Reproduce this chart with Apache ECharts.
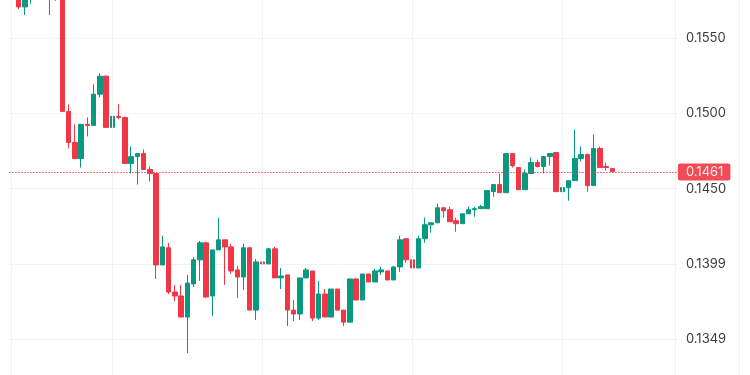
<!DOCTYPE html>
<html>
<head>
<meta charset="utf-8">
<script src="https://cdn.jsdelivr.net/npm/echarts@6/dist/echarts.min.js"></script>
<style>
html,body{margin:0;padding:0;background:#ffffff;}
#chart{width:750px;height:375px;}
</style>
</head>
<body>
<div id="chart"></div>
<script>
// ---- data ----
const slotCount = 107; // candle slots on the time axis (last ones empty)
const categories = Array.from({length: slotCount}, (_, i) => String(i));

const opens = [
0.1590, 0.1580, 0.15707, 0.1577, 0.1581, 0.1586, 0.1577, 0.1584, 0.1578, 0.15013,
0.14807, 0.14700, 0.14927, 0.14920, 0.15127, 0.15247, 0.14907, 0.14980, 0.14973, 0.14667,
0.14713, 0.14733, 0.14627, 0.14600, 0.13993, 0.14107, 0.13813, 0.13787, 0.13647, 0.13867,
0.14027, 0.14140, 0.13787, 0.14093, 0.14160, 0.14113, 0.13960, 0.13913, 0.14107, 0.13693,
0.14013, 0.14000, 0.14100, 0.13907, 0.13927, 0.13693, 0.13667, 0.13907, 0.13953, 0.13640,
0.13800, 0.13647, 0.13833, 0.13693, 0.13613, 0.13900, 0.13760, 0.13933, 0.13880, 0.13947,
0.13953, 0.13893, 0.13980, 0.14167, 0.14027, 0.13973, 0.14167, 0.14260, 0.14273, 0.14373,
0.14360, 0.14287, 0.14267, 0.14333, 0.14360, 0.14367, 0.14367, 0.14480, 0.14527, 0.14473,
0.14733, 0.14640, 0.14493, 0.14600, 0.14673, 0.14647, 0.14713, 0.14740, 0.14480, 0.14507,
0.14553, 0.14700, 0.14727, 0.14520, 0.14767, 0.14647, 0.14633
];
const closes = [
0.1585, 0.15707, 0.1579, 0.1581, 0.1586, 0.1582, 0.1584, 0.1578, 0.15013, 0.14807,
0.14700, 0.14927, 0.14920, 0.15127, 0.15247, 0.14907, 0.14980, 0.14973, 0.14667, 0.14713,
0.14733, 0.14627, 0.14600, 0.13993, 0.14113, 0.13813, 0.13787, 0.13647, 0.13873, 0.14027,
0.14140, 0.13780, 0.14093, 0.14160, 0.14113, 0.13953, 0.13913, 0.14107, 0.13693, 0.14013,
0.14000, 0.14100, 0.13907, 0.13920, 0.13693, 0.13667, 0.13907, 0.13960, 0.13640, 0.13800,
0.13647, 0.13833, 0.13693, 0.13613, 0.13900, 0.13760, 0.13933, 0.13880, 0.13953, 0.13960,
0.13893, 0.13980, 0.14160, 0.14027, 0.13973, 0.14167, 0.14260, 0.14273, 0.14373, 0.14353,
0.14280, 0.14267, 0.14333, 0.14360, 0.14367, 0.14380, 0.14487, 0.14527, 0.14473, 0.14733,
0.14653, 0.14493, 0.14600, 0.14673, 0.14647, 0.14713, 0.14733, 0.14480, 0.14507, 0.14553,
0.14700, 0.14727, 0.14520, 0.14767, 0.14640, 0.14640, 0.14613
];
const lows = [
0.1580, 0.15693, 0.15653, 0.15727, 0.1579, 0.1578, 0.15653, 0.15747, 0.15013, 0.14767,
0.14700, 0.14640, 0.14847, 0.14920, 0.15107, 0.14907, 0.14880, 0.14960, 0.14667, 0.14600,
0.14527, 0.14627, 0.14547, 0.13900, 0.13993, 0.13800, 0.13753, 0.13647, 0.13407, 0.13847,
0.13887, 0.13773, 0.13653, 0.14093, 0.13860, 0.13933, 0.13773, 0.13827, 0.13693, 0.13627,
0.13973, 0.14000, 0.13907, 0.13833, 0.13587, 0.13620, 0.13627, 0.13907, 0.13620, 0.13627,
0.13647, 0.13647, 0.13693, 0.13587, 0.13613, 0.13760, 0.13760, 0.13880, 0.13880, 0.13927,
0.13893, 0.13893, 0.13947, 0.14007, 0.13973, 0.13973, 0.14140, 0.14207, 0.14273, 0.14307,
0.14280, 0.14213, 0.14267, 0.14333, 0.14313, 0.14367, 0.14367, 0.14447, 0.14473, 0.14473,
0.14640, 0.14493, 0.14493, 0.14600, 0.14640, 0.14600, 0.14653, 0.14480, 0.14373, 0.14420,
0.14553, 0.14680, 0.14480, 0.14520, 0.14640, 0.14620, 0.14613
];
const highs = [
0.1593, 0.1582, 0.1580, 0.1582, 0.1588, 0.1588, 0.1586, 0.1586, 0.1580, 0.15060,
0.14927, 0.14927, 0.14973, 0.15193, 0.15267, 0.15253, 0.15027, 0.15060, 0.14973, 0.14780,
0.14733, 0.14760, 0.14647, 0.14600, 0.14187, 0.14140, 0.13860, 0.13860, 0.13927, 0.14047,
0.14153, 0.14147, 0.14093, 0.14307, 0.14160, 0.14133, 0.13987, 0.14133, 0.14113, 0.14033,
0.14087, 0.14107, 0.14113, 0.13973, 0.13927, 0.13760, 0.13907, 0.13973, 0.13953, 0.13887,
0.13833, 0.13833, 0.13833, 0.13693, 0.13900, 0.13907, 0.13933, 0.13933, 0.13967, 0.13980,
0.13953, 0.13987, 0.14187, 0.14167, 0.14067, 0.14187, 0.14307, 0.14273, 0.14400, 0.14373,
0.14380, 0.14307, 0.14333, 0.14380, 0.14380, 0.14393, 0.14487, 0.14527, 0.14600, 0.14733,
0.14733, 0.14640, 0.14627, 0.14707, 0.14693, 0.14713, 0.14733, 0.14740, 0.14560, 0.14553,
0.14893, 0.14780, 0.14733, 0.14860, 0.14780, 0.14673, 0.14633
];

const yTickValues = [0.135, 0.140, 0.145, 0.150, 0.155];
const yTickLabels = ['0.1349', '0.1399', '0.1450', '0.1500', '0.1550'];
const yMin = 0.13262;
const yMax = 0.15753;
const lastPrice = 0.1461;
const lastPriceLabel = '0.1461';
const timeGridIdx = [16, 40, 64, 88];

// ---- styles ----
const UP = '#089981';
const DOWN = '#f23645';
const GRID = '#f0f2f5';
const TEXT = '#3c3c3c';

const ohlc = opens.map((o, i) => [o, closes[i], lows[i], highs[i]]);

const chart = echarts.init(document.getElementById('chart'), null, {renderer: 'canvas'});
chart.setOption({
  animation: false,
  backgroundColor: '#ffffff',
  grid: {left: 9.125, right: 72.125, top: 0, bottom: 0, containLabel: false},
  graphic: [
    {type: 'line', z: 0, silent: true, shape: {x1: 11.5, y1: 0, x2: 11.5, y2: 375}, style: {stroke: GRID, lineWidth: 1}},
    {type: 'line', z: 0, silent: true, shape: {x1: 675.5, y1: 0, x2: 675.5, y2: 375}, style: {stroke: GRID, lineWidth: 1}},
    {type: 'line', z: 0, silent: true, shape: {x1: 739.5, y1: 0, x2: 739.5, y2: 375}, style: {stroke: GRID, lineWidth: 1}}
  ],
  xAxis: {
    type: 'category',
    data: categories,
    boundaryGap: true,
    axisLine: {show: false},
    axisTick: {show: false},
    axisLabel: {show: false},
    splitLine: {show: false}
  },
  yAxis: {
    type: 'value',
    position: 'right',
    min: yMin,
    max: yMax,
    splitNumber: 5,
    scale: true,
    axisLine: {show: false},
    axisTick: {show: false},
    splitLine: {show: true, showMinLine: false, showMaxLine: false, lineStyle: {color: GRID, width: 1}},
    axisLabel: {
      show: true,
      showMinLabel: false,
      showMaxLabel: false,
      hideOverlap: false,
      margin: 8,
      color: TEXT,
      fontFamily: 'Inter, Roboto, sans-serif',
      fontSize: 13,
      formatter: function (v) {
        for (let k = 0; k < yTickValues.length; k++) {
          if (Math.abs(v - yTickValues[k]) < 1e-7) return yTickLabels[k];
        }
        return '';
      }
    }
  },
  series: [
    {
      type: 'line',
      data: [],
      z: 1,
      silent: true,
      markLine: {
        silent: true,
        symbol: 'none',
        animation: false,
        label: {show: false},
        lineStyle: {color: GRID, type: 'solid', width: 1},
        data: timeGridIdx.map(i => ({xAxis: i}))
      }
    },
    {
      type: 'candlestick',
      z: 2,
      barWidth: 5,
      clip: true,
      data: ohlc,
      itemStyle: {
        color: UP,
        color0: DOWN,
        borderColor: UP,
        borderColor0: DOWN,
        borderWidth: 1
      },
      markLine: {
        silent: true,
        symbol: 'none',
        animation: false,
        precision: 6,
        lineStyle: {color: DOWN, type: [1.5, 1.5], width: 1, opacity: 0.9},
        label: {
          show: true,
          position: 'end',
          distance: 0,
          formatter: lastPriceLabel,
          color: '#ffffff',
          backgroundColor: DOWN,
          fontFamily: 'Inter, Roboto, sans-serif',
          fontSize: 13,
          lineHeight: 15,
          padding: [1, 7, 1, 8],
          borderRadius: 2
        },
        data: [{yAxis: lastPrice}]
      }
    }
  ]
});
</script>
</body>
</html>
